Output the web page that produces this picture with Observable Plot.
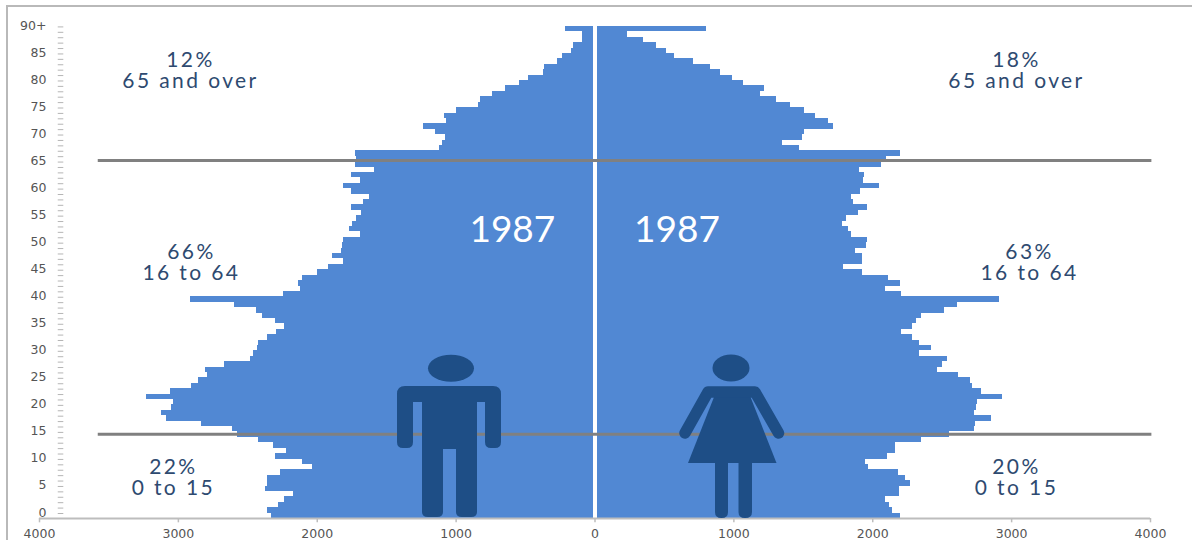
<!DOCTYPE html>
<html>
<head>
<meta charset="utf-8">
<script src="https://cdn.jsdelivr.net/npm/d3@7"></script>
<script src="https://cdn.jsdelivr.net/npm/@observablehq/plot@0.6"></script>
<style>
html,body{margin:0;padding:0;background:#fff;overflow:hidden}
#wrap{position:relative;width:1192px;height:540px}
#wrap svg{position:absolute;left:0;top:0;display:block}
#frame{position:absolute;left:6px;top:5px;right:0;bottom:0;border-left:2px solid #b9b9b9;border-top:2px solid #b9b9b9}
.grp text{letter-spacing:2.4px}
</style>
</head>
<body>
<div id="wrap"><div id="frame"></div><div id="chart"></div>
<svg id="icons" width="1192" height="540" viewBox="0 0 1192 540" style="pointer-events:none">
  <g fill="#1E4E86" stroke="none">
    <ellipse cx="451" cy="368.3" rx="23" ry="13.5"/>
    <path d="M405 386H493Q501 386 501 394V442Q501 448 495 448H491Q485 448 485 442V402H477V512Q477 517 471 517H462Q456 517 456 512V449H443V512Q443 517 437 517H428Q422 517 422 512V402H413V442Q413 448 407 448H403Q397 448 397 442V394Q397 386 405 386Z"/>
    <ellipse cx="731" cy="368" rx="18.5" ry="13.5"/>
    <path d="M716 392H748.500L776.500 463H688Z"/>
    <path d="M715 460H728V512Q728 518 721.500 518Q715 518 715 512Z"/>
    <path d="M738.500 460H752V512Q752 518 745 518Q738.500 518 738.500 512Z"/>
  </g>
  <path d="M685 433L708 392H755L778.500 433" fill="none" stroke="#1E4E86" stroke-width="11.500" stroke-linecap="round" stroke-linejoin="round"/>
</svg>
</div>
<script>
// Single years of age, 0 to 90+
const ages = d3.range(0, 91);
const male = [
2332,2357,2277,2235,2172,2376,2357,2357,2268,2034,
2103,2304,2219,2318,2420,2572,2613,2834,3087,3123,
3049,3032,3233,3060,2902,2856,2787,2806,2668,2480,
2461,2428,2420,2359,2296,2235,2304,2392,2434,2599,
2916,2241,2122,2136,2103,1998,1918,1808,1891,1822,
1819,1814,1690,1767,1745,1717,1684,1753,1668,1621,
1753,1808,1690,1756,1588,1728,1714,1725,1122,1097,
1075,1152,1235,1069,1083,1000,841,827,739,642,
546,482,372,361,267,234,168,152,88,88,209];
const female = [
2202,2142,2122,2095,2191,2190,2271,2238,2183,1968,
1946,2106,2164,2164,2354,2550,2734,2740,2858,2734,
2748,2756,2936,2784,2721,2707,2618,2467,2505,2536,
2335,2423,2340,2288,2210,2288,2315,2348,2519,2610,
2913,2205,2095,2202,2114,1929,1792,1929,1929,1874,
1954,1962,1844,1825,1783,1811,1894,1962,1860,1847,
1913,2050,1935,1940,1902,2064,2100,2202,1475,1350,
1494,1508,1720,1678,1590,1510,1411,1306,1190,1218,
1072,990,901,832,711,571,515,446,350,231,805];
const ageTicks = [0,5,10,15,20,25,30,35,40,45,50,55,60,65,70,75,80,85,90];
const xTicks = [-4000,-3000,-2000,-1000,0,1000,2000,3000,4000];
const ruleAges = [15.6, 66.2];
const groupLabels = ["12%\n65 and over","66%\n16 to 64","22%\n0 to 15","18%\n65 and over","63%\n16 to 64","20%\n0 to 15"];
const groupX = [-2913,-2906,-3036,3035,3129,3035];
const groupY = [82.9,47.3,7.6,82.9,47.3,7.6];
const yearX = [-595,590];

const BLUE = "#5188D3";
const idx = groupLabels.map((_, i) => i);

const chart = Plot.plot({
  width: 1192, height: 540,
  marginLeft: 39, marginRight: 42, marginTop: 26, marginBottom: 22,
  style: {background: "transparent", overflow: "visible"},
  x: {type: "linear", domain: [-4000, 4000], axis: null},
  y: {type: "linear", domain: [0, 91], axis: null},
  marks: [
    Plot.rect(ages, {x1: i => -male[i], x2: () => 0, y1: i => i, y2: i => i + 1, fill: BLUE, shapeRendering: "crispEdges"}),
    Plot.rect(ages, {x1: () => 0, x2: i => female[i], y1: i => i, y2: i => i + 1, fill: BLUE, shapeRendering: "crispEdges"}),
    Plot.ruleX([0], {y1: 0, y2: 91, stroke: "white", strokeWidth: 4}),
    Plot.ruleY(ruleAges, {x1: -3577, x2: 4010, stroke: "#808080", strokeWidth: 3}),
    Plot.ruleY(ages, {x1: -3865, x2: -3825, dy: -5, stroke: "#b5b5b5", strokeWidth: 1}),
    Plot.text(ageTicks, {
      x: -3950, y: d => d, dy: -6,
      text: d => d === 90 ? "90+" : String(d),
      textAnchor: "end", fontSize: 12.5, fontFamily: "DejaVu Sans", fill: "#555"
    }),
    Plot.ruleY([0], {stroke: "#bdbdbd", strokeWidth: 2}),
    Plot.ruleX(xTicks, {y1: 0, y2: -0.8, stroke: "#bdbdbd", strokeWidth: 1.5}),
    Plot.axisX(xTicks, {
      tickSize: 0, tickPadding: 11, anchor: "bottom", label: null,
      tickFormat: d => String(Math.abs(d)),
      fontSize: 12.5, fontFamily: "DejaVu Sans", color: "#555"
    }),
    Plot.text(idx, {
      x: i => groupX[i], y: i => groupY[i], text: i => groupLabels[i],
      fontSize: 21, lineHeight: 1, fontFamily: "Lato", fill: "#2E4A70", className: "grp"
    }),
    Plot.text(yearX, {
      x: d => d, y: 53.4, text: () => "1987",
      fontSize: 37, fontFamily: "Lato", fill: "white"
    })
  ]
});
document.getElementById("chart").append(chart);
</script>
</body>
</html>
